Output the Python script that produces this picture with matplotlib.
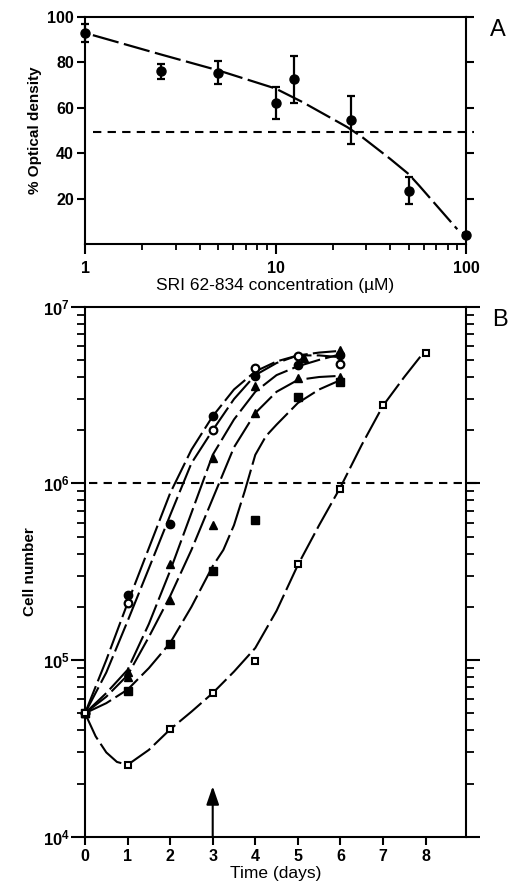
import matplotlib
matplotlib.use("Agg")
import matplotlib.pyplot as plt
from matplotlib.ticker import FixedLocator, NullFormatter, LogLocator

plt.rcParams['font.family'] = ['Liberation Sans', 'DejaVu Sans']
plt.rcParams['mathtext.fontset'] = 'custom'
plt.rcParams['mathtext.rm'] = 'Liberation Sans'
plt.rcParams['mathtext.bf'] = 'Liberation Sans:bold'

# ---------------- Panel A data ----------------
conc = [1, 2.5, 5, 10, 12.5, 25, 50, 100]
od_pct = [93, 76, 75.5, 62, 72.5, 54.5, 23.5, 4]
od_err = [4, 3.5, 5, 7, 10.5, 10.5, 6, 1]
fit_conc = [1.1, 2.5, 5, 10, 13.8, 23.8, 28.6, 40, 50, 56.8, 90]
fit_od = [92, 83.5, 76.5, 68.5, 62.6, 51.5, 47, 37.5, 30.8, 25.7, 6.5]
half_level = 49.5
a_yticks = [20, 40, 60, 80, 100]
a_xticks = [1, 10, 100]

# ---------------- Panel B data ----------------
days_fc = [0, 1, 2, 3, 4, 5, 6]
cells_fc = [5e4, 2.33e5, 5.86e5, 2.4e6, 4.05e6, 4.65e6, 5.3e6]
days_oc = [0, 1, 3, 4, 5, 6]
cells_oc = [5e4, 2.11e5, 2.0e6, 4.5e6, 5.27e6, 4.73e6]
days_ta = [0, 1, 2, 3, 4, 5.15, 6]
cells_ta = [5e4, 8.6e4, 3.5e5, 1.4e6, 3.56e6, 5.1e6, 5.68e6]
days_tb = [0, 1, 2, 3, 4, 5, 6]
cells_tb = [5e4, 7.98e4, 2.2e5, 5.8e5, 2.51e6, 3.93e6, 4.0e6]
days_fs = [0, 1, 2, 3, 4, 5, 6]
cells_fs = [5e4, 6.68e4, 1.23e5, 3.2e5, 6.2e5, 3.09e6, 3.76e6]
days_os = [0, 1, 2, 3, 4, 5, 6, 7, 8]
cells_os = [5e4, 2.55e4, 4.07e4, 6.5e4, 9.87e4, 3.49e5, 9.25e5, 2.77e6, 5.5e6]

# hand-drawn fitted curves
curve_a_t = [0, 0.5, 1, 1.5, 2, 2.5, 3, 3.5, 4, 4.5, 5, 5.5, 5.9]
curve_a_v = [5e4, 1.0e5, 2.1e5, 4.3e5, 8.8e5, 1.55e6, 2.4e6, 3.4e6, 4.3e6, 4.9e6, 5.3e6, 5.5e6, 5.6e6]
curve_b_t = [0, 0.5, 1, 1.5, 2, 2.5, 3, 3.5, 4, 4.5, 5, 5.5, 5.9]
curve_b_v = [5e4, 8.5e4, 1.66e5, 3.3e5, 6.6e5, 1.3e6, 2.0e6, 3.0e6, 4.1e6, 4.8e6, 5.3e6, 5.3e6, 5.2e6]
curve_c_t = [0, 0.5, 1, 1.5, 2, 2.5, 3, 3.5, 4, 4.5, 5, 5.5, 5.9]
curve_c_v = [5e4, 6.5e4, 8.8e4, 1.6e5, 3.2e5, 6.8e5, 1.45e6, 2.3e6, 3.3e6, 4.1e6, 4.6e6, 5.0e6, 5.3e6]
curve_d_t = [0, 0.5, 1, 1.5, 2, 2.5, 3, 3.5, 4, 4.5, 5, 5.5, 5.9]
curve_d_v = [5e4, 6.2e4, 8.2e4, 1.35e5, 2.3e5, 4.2e5, 8.2e5, 1.6e6, 2.5e6, 3.3e6, 3.85e6, 4.0e6, 4.05e6]
curve_e_t = [0, 0.5, 1, 1.5, 2, 2.5, 3, 3.25, 3.5, 3.75, 4, 4.25, 4.5, 5, 5.5, 5.9]
curve_e_v = [5e4, 5.7e4, 6.8e4, 9e4, 1.25e5, 2.0e5, 3.4e5, 4.2e5, 5.8e5, 9.0e5, 1.45e6, 1.85e6,
             2.15e6, 2.85e6, 3.4e6, 3.75e6]
curve_f_t = [0, 0.25, 0.5, 0.75, 1, 1.5, 2, 2.5, 3, 3.5, 4, 4.5, 5, 5.5, 6, 6.5, 7, 7.5, 7.9]
curve_f_v = [5e4, 3.7e4, 3.0e4, 2.65e4, 2.55e4, 3.1e4, 4.05e4, 5.1e4, 6.5e4, 8.6e4, 1.17e5, 1.9e5,
             3.45e5, 5.8e5, 9.5e5, 1.65e6, 2.75e6, 4.0e6, 5.3e6]
cell_level = 1e6
arrow_day = 3
arrow_tip = 1.93e4
b_xticks = [0, 1, 2, 3, 4, 5, 6, 7, 8]

W, H = 513, 883
fig = plt.figure(figsize=(W / 100, H / 100), dpi=100)

def fx(px):
    return px / W

def fy(py):
    return 1 - py / H

dash_fit = (12, 2.5)
dash_ref = (4, 3)

# ---------------- Panel A ----------------
axA = fig.add_axes([fx(85), fy(244), fx(466 - 85), (244 - 17) / H])
axA.set_xscale('log')
axA.set_xlim(1, 100)
axA.set_ylim(0, 100)
axA.plot(fit_conc, fit_od, color='k', lw=1.6, dashes=dash_fit, solid_capstyle='butt')
axA.plot([1.1, 110], [half_level, half_level], color='k', lw=1.5, dashes=dash_ref, clip_on=False)
axA.errorbar(conc, od_pct, yerr=od_err, fmt='o', color='k', ms=6.5, elinewidth=1.6,
             capsize=3, capthick=1.6, clip_on=False, zorder=3)
axA.set_yticks(a_yticks)
axA.set_xticks(a_xticks)
axA.set_xticklabels(['1', '10', '100'])
axA.xaxis.set_minor_locator(LogLocator(base=10, subs=range(2, 10)))
axA.xaxis.set_minor_formatter(NullFormatter())
axA.tick_params(axis='y', which='major', direction='out', length=6, width=1.5,
                left=True, right=True, labelsize=11.5, pad=2)
axA.tick_params(axis='x', which='major', direction='out', length=7, width=1.5,
                bottom=True, top=False, labelsize=11.5, pad=5)
axA.tick_params(axis='x', which='minor', direction='out', length=4, width=1.3,
                bottom=True, top=False)
for lab in axA.get_yticklabels() + axA.get_xticklabels():
    lab.set_fontweight('bold')
for s in axA.spines.values():
    s.set_linewidth(1.5)
axA.set_ylabel('% Optical density', fontsize=11, fontweight='bold', labelpad=4)
axA.set_xlabel('SRI 62-834 concentration (\u00b5M)', fontsize=12.5, labelpad=2)
fig.text(fx(490), fy(36), 'A', fontsize=17, ha='left', va='baseline')

# ---------------- Panel B ----------------
axB = fig.add_axes([fx(85), fy(836.7), fx(466 - 85), 530 / H])
axB.set_yscale('log')
axB.set_xlim(0, 8.95)
axB.set_ylim(1e4, 1e7)

curve_kw = dict(color='k', lw=1.5, dashes=(14, 2.5), solid_capstyle='butt')
for tt, vv in [(curve_a_t, curve_a_v), (curve_b_t, curve_b_v), (curve_c_t, curve_c_v),
               (curve_d_t, curve_d_v), (curve_e_t, curve_e_v), (curve_f_t, curve_f_v)]:
    axB.plot(tt, vv, **curve_kw)

axB.plot([0.1, 9.2], [cell_level, cell_level], color='k', lw=1.5, dashes=dash_ref, clip_on=False)

mk = dict(linestyle='none', clip_on=False, zorder=4)
axB.plot(days_fc, cells_fc, marker='o', ms=6, mfc='k', mec='k', **mk)
axB.plot(days_oc, cells_oc, marker='o', ms=5.5, mfc='white', mec='k', mew=1.6, **mk)
axB.plot(days_ta, cells_ta, marker='^', ms=6, mfc='k', mec='k', **mk)
axB.plot(days_tb, cells_tb, marker='^', ms=6, mfc='k', mec='k', **mk)
axB.plot(days_fs, cells_fs, marker='s', ms=5.5, mfc='k', mec='k', **mk)
axB.plot(days_os, cells_os, marker='s', ms=5, mfc='white', mec='k', mew=1.5, **mk)

axB.annotate('', xy=(arrow_day, arrow_tip), xytext=(arrow_day, 1e4),
             arrowprops=dict(arrowstyle='-|>,head_length=1.1,head_width=0.38', lw=1.5,
                             color='k', shrinkA=0, shrinkB=0, mutation_scale=10))

axB.set_xticks(b_xticks)
axB.set_xticklabels([str(v) for v in b_xticks])
axB.yaxis.set_major_locator(FixedLocator([1e4, 1e5, 1e6, 1e7]))
axB.set_yticklabels([r'$\mathregular{10^{4}}$', r'$\mathregular{10^{5}}$',
                     r'$\mathregular{10^{6}}$', r'$\mathregular{10^{7}}$'])
axB.yaxis.set_minor_locator(LogLocator(base=10, subs=range(2, 10)))
axB.yaxis.set_minor_formatter(NullFormatter())
axB.tick_params(axis='y', which='major', direction='out', length=10, width=1.5,
                left=True, right=True, labelsize=12, pad=1)
axB.tick_params(axis='y', which='minor', direction='out', length=6, width=1.3,
                left=True, right=True)
axB.tick_params(axis='x', which='major', direction='out', length=6, width=1.5,
                bottom=True, top=False, labelsize=11.5, pad=3)
for lab in axB.get_xticklabels() + axB.get_yticklabels():
    lab.set_fontweight('bold')
for s in axB.spines.values():
    s.set_linewidth(1.5)
axB.set_ylabel('Cell number', fontsize=11, fontweight='bold', labelpad=4)
axB.set_xlabel('Time (days)', fontsize=12.5, labelpad=1)
fig.text(fx(492), fy(326), 'B', fontsize=17, ha='left', va='baseline')

fig.savefig('out.png', dpi=100)
